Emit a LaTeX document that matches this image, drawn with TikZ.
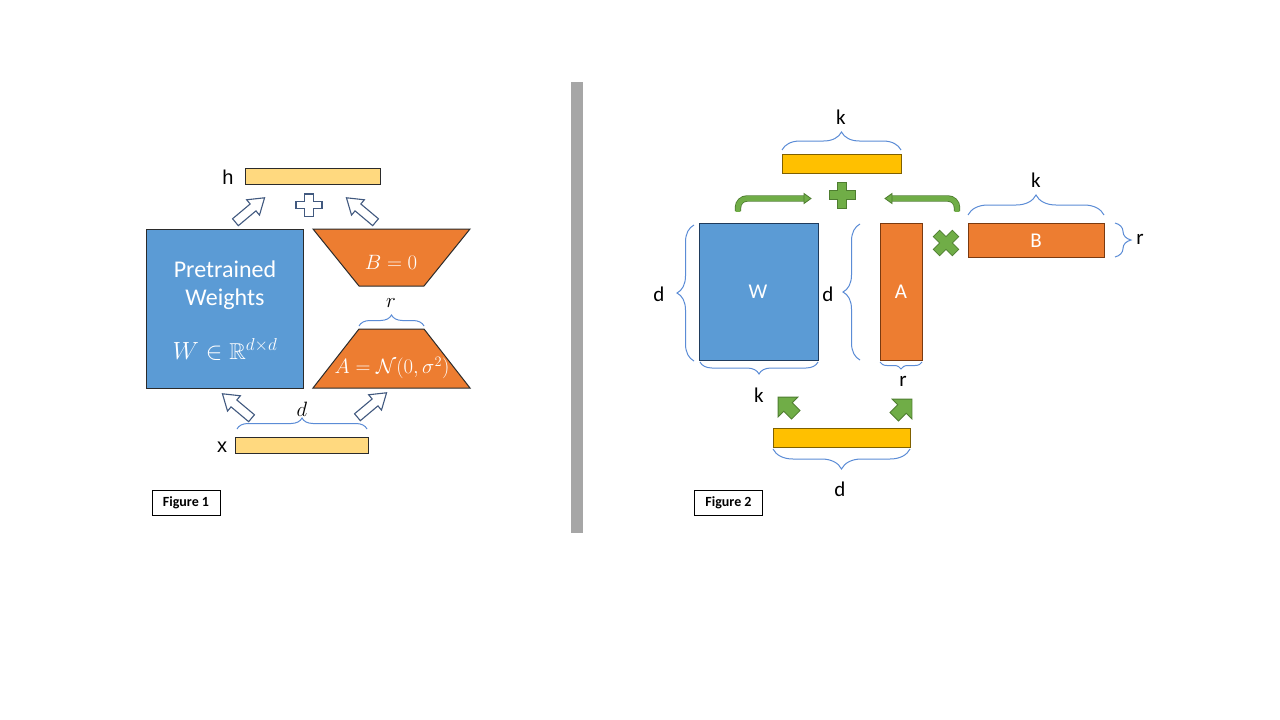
\documentclass[tikz,border=0pt]{standalone}
\usepackage{fontspec}
\usepackage{amsmath,amssymb}
\setmainfont{Carlito}
\newfontfamily\arialf{Liberation Sans}
\usetikzlibrary{decorations.pathreplacing,arrows.meta}
\definecolor{blueF}{HTML}{5B9BD5}
\definecolor{blueD}{HTML}{1F3B5C}
\definecolor{orgF}{HTML}{ED7D31}
\definecolor{orgD}{HTML}{7A3A10}
\definecolor{yelL}{HTML}{FFD97F}
\definecolor{yelF}{HTML}{FFC000}
\definecolor{yelD}{HTML}{7F6000}
\definecolor{grn}{HTML}{70AD47}
\definecolor{grnD}{HTML}{4E7D30}
\definecolor{arrowC}{HTML}{41597F}
\definecolor{braceC}{HTML}{5B8CD6}
\definecolor{divC}{HTML}{A6A6A6}
\definecolor{darkC}{HTML}{2B2B2B}
\tikzset{
  arrowline/.style={draw=arrowC, line width=1.1pt},
  gline/.style={draw=grnD, line width=0.8pt},
  bracestyle/.style={draw=braceC, line width=1pt, decorate, decoration={brace, amplitude=#1}},
  lab/.style={font=\fontsize{21}{24}\selectfont, text=black, inner sep=0pt},
  flab/.style={font=\arialf\fontsize{20}{24}\selectfont, text=black, inner sep=0pt},
  boxtext/.style={text=white, inner sep=0pt},
  figbox/.style={draw=black, line width=0.8pt, fill=white, minimum width=68pt, minimum height=25pt, inner sep=0pt, font=\fontsize{14}{16}\selectfont\bfseries},
  hollowarrow/.pic={\draw[arrowline, fill=white] (-19,-4.5) -- (4,-4.5) -- (4,-10) -- (19,0) -- (4,10) -- (4,4.5) -- (-19,4.5) -- cycle;},
  chunkyarrow/.pic={\draw[gline, fill=grn] (-11,-6) -- (0,-6) -- (0,-14) -- (14,0) -- (0,14) -- (0,6) -- (-11,6) -- cycle;},
  crossshape/.pic={\draw[pic actions] (-#1,-4.5) -- (-4.5,-4.5) -- (-4.5,-#1) -- (4.5,-#1) -- (4.5,-4.5) -- (#1,-4.5) -- (#1,4.5) -- (4.5,4.5) -- (4.5,#1) -- (-4.5,#1) -- (-4.5,4.5) -- (-#1,4.5) -- cycle;}
}
\begin{document}
\begin{tikzpicture}[x=1pt,y=-1pt]
\useasboundingbox (0,0) rectangle (1280,720);
\fill[white] (0,0) rectangle (1280,720);

% ---------------- Figure 1 ----------------
\node[draw=darkC, line width=1pt, fill=yelL, minimum width=135pt, minimum height=16pt, inner sep=0pt] (hbar) at (312.5,176) {};
\node[flab] (hlab) at (228,177) {h};
\node[draw=darkC, line width=1pt, fill=yelL, minimum width=133pt, minimum height=16pt, inner sep=0pt] (xbar) at (301.5,445) {};
\node[flab] (xlab) at (222,447) {x};

\node[draw=darkC, line width=1pt, fill=blueF, minimum width=157pt, minimum height=159pt, inner sep=0pt] (Wbox) at (224.5,308.5) {};
\node[boxtext, font=\fontsize{24}{28}\selectfont] (pre) at (225,269) {Pretrained};
\node[boxtext, font=\fontsize{24}{28}\selectfont] (wei) at (225,299) {Weights};
\node[boxtext, font=\fontsize{23}{26}\selectfont] (wfor) at (225,349) {$W \in \mathbb{R}^{d\times d}$};

\draw[draw=darkC, line width=1pt, fill=orgF] (313,229) -- (470,229) -- (424,286) -- (359,286) -- cycle;
\node[boxtext, font=\fontsize{20}{24}\selectfont] (Beq) at (391,262) {$B = 0$};
\draw[draw=darkC, line width=1pt, fill=orgF] (359,329) -- (424,329) -- (470,388) -- (313,388) -- cycle;
\node[boxtext, font=\fontsize{20}{24}\selectfont] (Aeq) at (392,368) {$A = \mathcal{N}(0,\sigma^2)$};

\draw[bracestyle=11] (359,326) -- (424,326);
\node[font=\fontsize{20}{24}\selectfont, inner sep=0pt] (rlab1) at (391,303) {$r$};
\draw[bracestyle=11] (237,429) -- (367,429);
\node[font=\fontsize{20}{24}\selectfont, inner sep=0pt] (dlab1) at (302,409) {$d$};

\pic[rotate=40] at (250,210) {hollowarrow};
\pic[rotate=140] at (361,210) {hollowarrow};
\pic[rotate=140] at (237,406) {hollowarrow};
\pic[rotate=40] at (372,405) {hollowarrow};
\pic[arrowline, fill=white, yscale=0.85] at (309,205) {crossshape=13};

\node[figbox] (fig1) at (186,502.5) {Figure 1};

% divider
\fill[divC] (571,82) rectangle (583,533);

% ---------------- Figure 2 ----------------
\node[draw=yelD, line width=0.8pt, fill=yelF, minimum width=119pt, minimum height=19pt, inner sep=0pt] (topbar) at (841.5,163.5) {};
\draw[bracestyle=18] (782,150) -- (901,150);
\node[lab] (ktop) at (841,117) {k};

\pic[gline, fill=grn] at (842,195) {crossshape=13};

% bent arrows
\coordinate (la0) at (738,211);
\coordinate (la1) at (738,198.5);
\coordinate (la2) at (805,198.5);
\draw[line width=6.4pt, grnD, rounded corners=9] (la0) -- (la1) -- (la2);
\draw[line width=4.8pt, grn, rounded corners=9] ([yshift=-0.8pt]la0) -- (la1) -- ([xshift=0.8pt]la2);
\draw[gline, fill=grn] (804,193.5) -- (811,198.5) -- (804,203.5) -- cycle;
\coordinate (ra0) at (957,211);
\coordinate (ra1) at (957,198.5);
\coordinate (ra2) at (891,198.5);
\draw[line width=6.4pt, grnD, rounded corners=9] (ra0) -- (ra1) -- (ra2);
\draw[line width=4.8pt, grn, rounded corners=9] ([yshift=-0.8pt]ra0) -- (ra1) -- ([xshift=-0.8pt]ra2);
\draw[gline, fill=grn] (892,193.5) -- (885,198.5) -- (892,203.5) -- cycle;

% W
\node[draw=blueD, line width=0.8pt, fill=blueF, minimum width=119pt, minimum height=137pt, inner sep=0pt] (W2) at (758.5,291.5) {};
\node[boxtext, font=\fontsize{21}{24}\selectfont] (Wl) at (758,292) {W};
\draw[bracestyle=17] (694,361) -- (694,225);
\node[lab] (dl1) at (659,294) {d};
\draw[bracestyle=12] (818,362) -- (700,362);
\node[lab] (kl1) at (759,395) {k};

% A
\node[draw=orgD, line width=0.8pt, fill=orgF, minimum width=42pt, minimum height=137pt, inner sep=0pt] (A2) at (901,291.5) {};
\node[boxtext, font=\fontsize{21}{24}\selectfont] (Al) at (901,292) {A};
\draw[bracestyle=17] (860,360) -- (860,224);
\node[lab] (dl2) at (828,294) {d};
\draw[bracestyle=7] (922,362) -- (880,362);
\node[lab] (rl1) at (903,381) {r};

% times
\pic[gline, fill=grn, rotate=45] at (946,243) {crossshape=13.5};

% B
\node[draw=orgD, line width=0.8pt, fill=orgF, minimum width=136pt, minimum height=34pt, inner sep=0pt] (B2) at (1036,240) {};
\node[boxtext, font=\fontsize{21}{24}\selectfont] (Bl) at (1036,241) {B};
\draw[bracestyle=20] (968,215) -- (1104,215);
\node[lab] (kl2) at (1036,180) {k};
\draw[bracestyle=16] (1115,223) -- (1115,257);
\node[lab] (rl2) at (1140,239) {r};

% bottom
\pic[rotate=135] at (788,407) {chunkyarrow};
\pic[rotate=45] at (902,409) {chunkyarrow};
\node[draw=yelD, line width=0.8pt, fill=yelF, minimum width=137pt, minimum height=19pt, inner sep=0pt] (botbar) at (841.5,437.5) {};
\draw[bracestyle=20] (910,449) -- (773,449);
\node[lab] (dl3) at (840,489) {d};

\node[figbox] (fig2) at (728.5,502.5) {Figure 2};
\end{tikzpicture}
\end{document}
